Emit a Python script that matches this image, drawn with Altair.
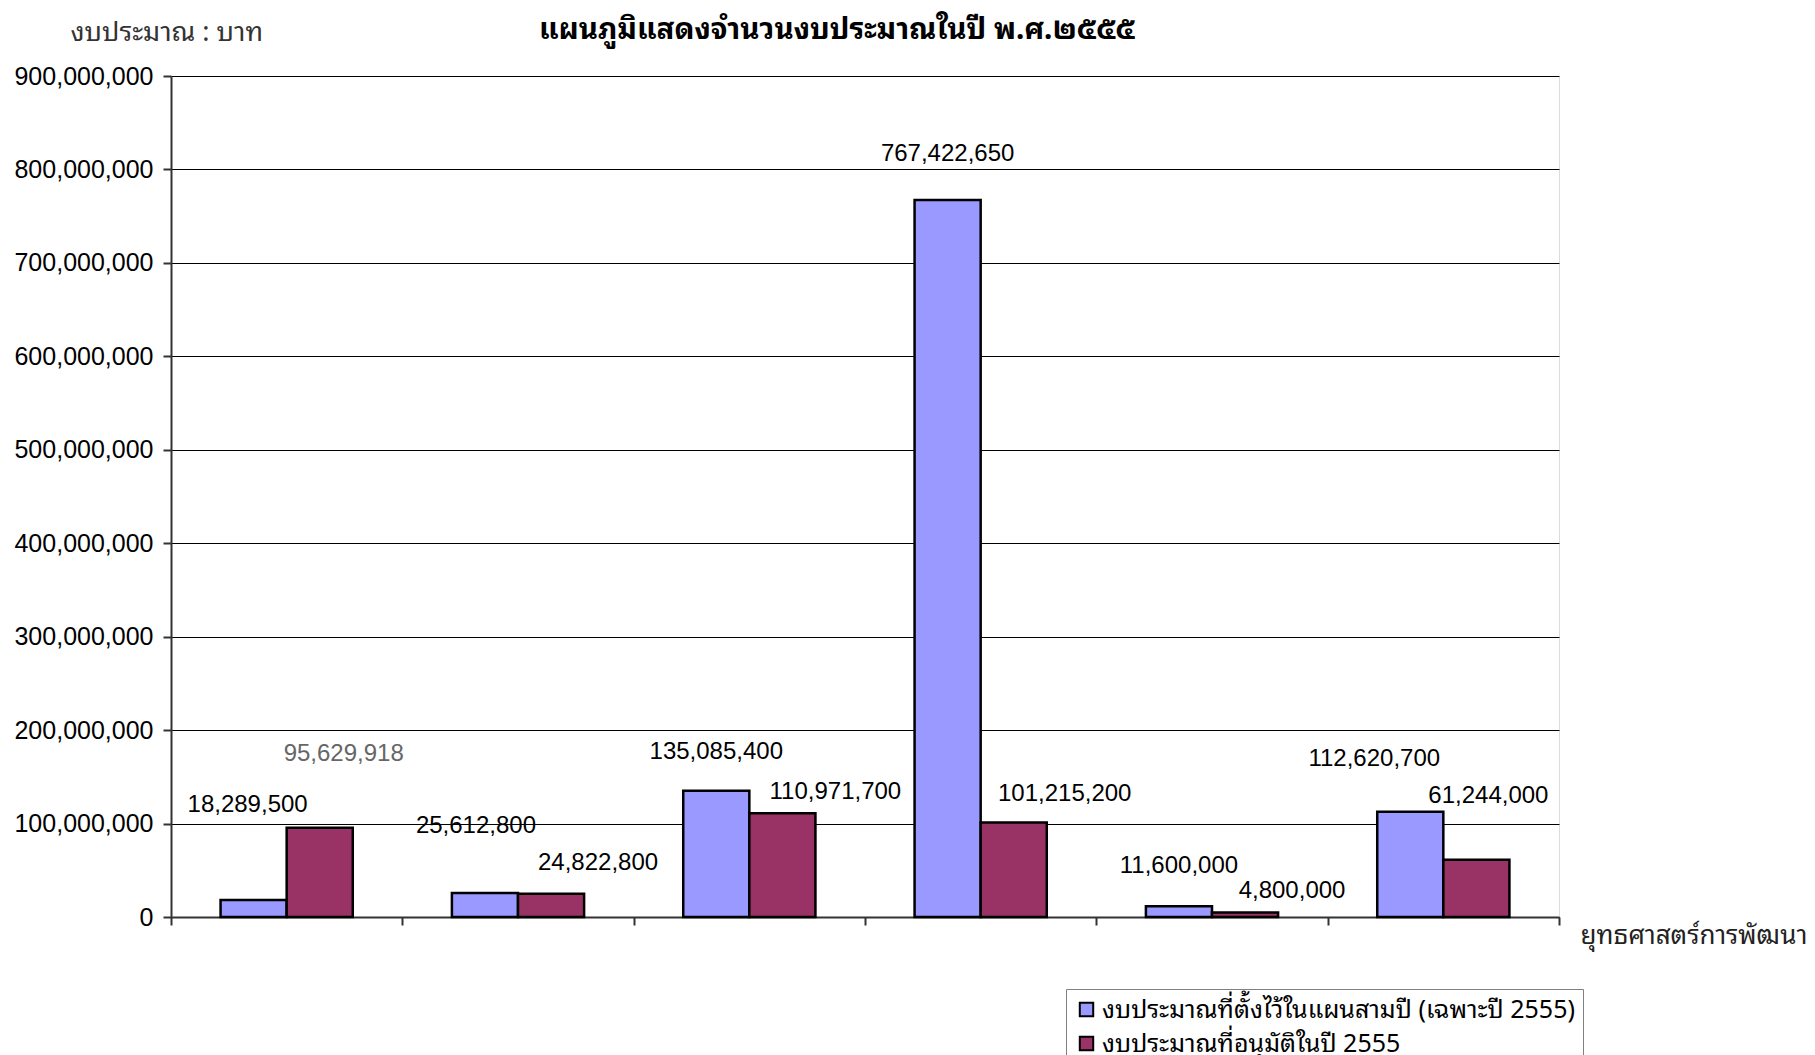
import altair as alt
import pandas as pd

categories = ["ยุทธศาสตร์ที่ 1", "ยุทธศาสตร์ที่ 2", "ยุทธศาสตร์ที่ 3",
              "ยุทธศาสตร์ที่ 4", "ยุทธศาสตร์ที่ 5", "ยุทธศาสตร์ที่ 6"]
series_names = ["งบประมาณที่ตั้งไว้ในแผนสามปี (เฉพาะปี 2555)", "งบประมาณที่อนุมัติในปี 2555"]
planned = [18289500, 25612800, 135085400, 767422650, 11600000, 112620700]
approved = [95629918, 24822800, 110971700, 101215200, 4800000, 61244000]
y_ticks = [0, 100000000, 200000000, 300000000, 400000000, 500000000,
           600000000, 700000000, 800000000, 900000000]
chart_title = "แผนภูมิแสดงจำนวนงบประมาณในปี พ.ศ.๒๕๕๕"

# label placement offsets in pixels (dx, dy) relative to the top of each bar
planned_off = [(-6, -95), (-9, -67), (0, -39), (0, -46), (0, -40), (-36, -53)]
approved_off = [(24, -74), (47, -31), (53, -21), (51, -28), (47, -22), (12, -64)]
label_colors_planned = ["black"] * 6
label_colors_approved = ["#666666", "black", "black", "black", "black", "black"]

rows = []
for i, c in enumerate(categories):
    rows.append({"cat": c, "series": series_names[0], "value": planned[i],
                 "dx": planned_off[i][0], "dy": planned_off[i][1], "col": label_colors_planned[i]})
    rows.append({"cat": c, "series": series_names[1], "value": approved[i],
                 "dx": approved_off[i][0], "dy": approved_off[i][1], "col": label_colors_approved[i]})
df = pd.DataFrame(rows)

THAI = "Noto Sans Thai Looped, Tahoma, Noto Sans Thai, Noto Sans, DejaVu Sans, sans-serif"
NUM = "Liberation Sans, Arial, sans-serif"

x_scale = alt.Scale(paddingInner=0, paddingOuter=0)
xo_scale = alt.Scale(paddingInner=0, paddingOuter=0.75)

x_enc = alt.X("cat:N", sort=categories, scale=x_scale,
              axis=alt.Axis(labels=False, tickBand="extent", tickSize=8, tickColor="#333333",
                            tickWidth=2, domainColor="#333333", domainWidth=2,
                            title="ยุทธศาสตร์การพัฒนา", titleX=1409, titleY=18,
                            titleAlign="left", titleBaseline="middle", titleFont=THAI,
                            titleFontSize=26, titleFontWeight="normal", titleColor="#222222"))
xo_enc = alt.XOffset("series:N", sort=series_names, scale=xo_scale)
y_enc = alt.Y("value:Q", scale=alt.Scale(domain=[0, 900000000], nice=False),
              axis=alt.Axis(values=y_ticks, format=",d", grid=True, gridColor="black",
                            gridWidth=1, domainColor="#333333", domainWidth=2,
                            tickColor="#333333", tickWidth=2, tickSize=8, labelPadding=10,
                            labelFont=NUM, labelFontSize=25, labelColor="black",
                            title="งบประมาณ : บาท", titleAngle=0, titleX=-101, titleY=-44,
                            titleAlign="left", titleBaseline="middle", titleFont=THAI,
                            titleFontSize=27, titleFontWeight="normal", titleColor="#333333"))

bars = alt.Chart(df).mark_bar(stroke="black", strokeWidth=2.5).encode(
    x=x_enc, xOffset=xo_enc, y=y_enc,
    color=alt.Color("series:N", sort=series_names,
                    scale=alt.Scale(domain=series_names, range=["#9999FF", "#993366"]),
                    legend=alt.Legend(orient="none", legendX=895, legendY=913, title=None,
                                      strokeColor="#808080", padding=8,
                                      symbolType="square", symbolSize=180,
                                      symbolStrokeColor="black", symbolStrokeWidth=2,
                                      symbolOpacity=1, labelFont=THAI, labelFontSize=25,
                                      labelColor="black", rowPadding=8, labelOffset=3,
                                      labelLimit=700))
)

layers = [bars]
for _, r in df.iterrows():
    sub = df[(df["cat"] == r["cat"]) & (df["series"] == r["series"])]
    layers.append(
        alt.Chart(sub).mark_text(dx=int(r["dx"]), dy=int(r["dy"]), font=NUM, fontSize=24,
                                 color=r["col"], baseline="middle", align="center").encode(
            x=alt.X("cat:N", sort=categories), xOffset=alt.XOffset("series:N", sort=series_names),
            y=alt.Y("value:Q"), text=alt.Text("value:Q", format=",d"))
    )

title_layer = alt.Chart(pd.DataFrame({"t": [chart_title]})).mark_text(
    font=THAI, fontSize=29.5, fontWeight="bold", color="black", align="center", baseline="middle"
).encode(text="t:N", x=alt.value(666), y=alt.value(-46))
layers.append(title_layer)

chart = alt.layer(*layers).properties(
    width=1388, height=841,
    autosize=alt.AutoSizeParams(type="none"),
    padding={"left": 163, "top": 68, "right": 248, "bottom": 140},
).configure_view(stroke="#888888", strokeWidth=3).configure(background="white")

chart.save("out.html", embed_options={"renderer": "svg", "actions": False})
